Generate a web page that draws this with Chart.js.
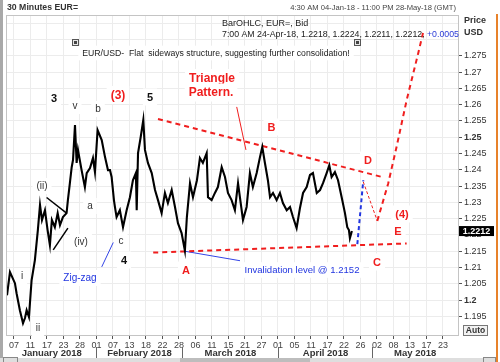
<!DOCTYPE html>
<html><head><meta charset="utf-8">
<script src="https://cdn.jsdelivr.net/npm/chart.js@4.4.1/dist/chart.umd.min.js"></script>
<style>html,body{margin:0;padding:0;background:#fff;}canvas{display:block;}</style>
</head><body>
<canvas id="c" width="500" height="362"></canvas>
<script>
// ---------- data ----------
const dayTickLabels = ['07','11','17','23','28','01','07','13','18','22','28','06','11','15','21','27','01','05','11','17','22','26','02','08','13','17','23'];
const monthLabels = ['January 2018','February 2018','March 2018','April 2018','May 2018'];
const monthStarts = [4.95, 10.2, 16.0, 21.7];
const priceTicks = [1.195,1.2,1.205,1.21,1.215,1.22,1.225,1.23,1.235,1.24,1.245,1.25,1.255,1.26,1.265,1.27,1.275];
const gridOnlyTicks = [1.28,1.285];
const boldTicks = [1.2,1.25];
const lastPrice = 1.2212;

const priceTimes = [-0.42,-0.24,0.06,0.16,0.36,0.55,0.67,0.77,0.91,1.07,1.27,1.45,1.58,1.70,1.88,2.04,2.18,2.30,2.48,2.65,2.79,2.97,3.19,3.27,3.39,3.50,3.58,3.70,3.80,3.88,4.10,4.30,4.41,4.61,4.79,4.91,5.07,5.32,5.52,5.70,5.82,5.92,6.06,6.12,6.22,6.42,6.61,6.83,7.03,7.21,7.39,7.44,7.52,7.68,7.84,7.94,8.12,8.35,8.55,8.73,8.95,9.15,9.33,9.56,9.76,9.94,10.16,10.36,10.48,10.67,10.85,11.09,11.27,11.45,11.68,11.76,11.98,12.18,12.36,12.59,12.79,12.97,13.19,13.39,13.58,13.88,14.10,14.30,14.48,14.71,14.91,15.05,15.21,15.39,15.52,15.70,15.92,16.12,16.30,16.53,16.73,16.91,17.13,17.33,17.52,17.74,17.94,18.12,18.35,18.55,18.73,18.95,19.11,19.25,19.45,19.64,19.86,20.06,20.20,20.30,20.36,20.48];
const priceValues = [1.2015,1.2086,1.2052,1.2021,1.1969,1.1929,1.1945,1.1969,1.1948,1.2061,1.2123,1.2215,1.2292,1.2246,1.2276,1.2215,1.2169,1.2246,1.2224,1.2267,1.2230,1.2255,1.2267,1.2307,1.2359,1.2408,1.2430,1.2537,1.2421,1.2461,1.2399,1.2347,1.2390,1.2405,1.2436,1.2393,1.2522,1.2491,1.2439,1.2399,1.2399,1.2378,1.2307,1.2286,1.2255,1.2276,1.2224,1.2276,1.2316,1.2368,1.2390,1.2276,1.2451,1.2500,1.2553,1.2461,1.2421,1.2390,1.2338,1.2307,1.2267,1.2329,1.2298,1.2338,1.2286,1.2236,1.2206,1.2152,1.2255,1.2359,1.2316,1.2368,1.2436,1.2421,1.2451,1.2316,1.2307,1.2329,1.2347,1.2408,1.2378,1.2329,1.2307,1.2276,1.2359,1.2246,1.2286,1.2390,1.2347,1.2390,1.2439,1.2470,1.2421,1.2368,1.2316,1.2329,1.2307,1.2329,1.2298,1.2276,1.2286,1.2255,1.2221,1.2282,1.2329,1.2347,1.2384,1.2390,1.2329,1.2338,1.2359,1.2390,1.2414,1.2378,1.2393,1.2368,1.2316,1.2267,1.2224,1.2215,1.2190,1.2212];

const upperTriangle = [[8.73,1.2556],[22.30,1.2378]];
const lowerTriangle = [[8.44,1.2146],[23.80,1.2174]];
const legD = [[20.81,1.2172],[21.17,1.2368]];
const legE = [[21.17,1.2363],[22.02,1.2243]];
const breakout = [[22.02,1.2243],[22.68,1.2358],[23.19,1.2471],[23.80,1.2614],[24.50,1.2758],[24.79,1.2820]];
const invalidation = [[10.36,1.2150],[13.70,1.2121]];
const trianglePointer = [[13.50,1.2593],[14.06,1.2461]];
const wedgeUpper = [[1.98,1.2315],[3.19,1.2267]];
const wedgeLower = [[2.38,1.2154],[3.27,1.2221]];
const zigzagPointer = [[5.32,1.2102],[6.02,1.2177]];

// ---------- styles ----------
const FONT = '"Liberation Sans", Arial, sans-serif';
const RED = '#f01e1e';
const BLUE = '#2236e0';
const pts = a => a.map(p => ({x:p[0], y:p[1]}));
function seg(data, color, width, dash) {
  return {data: pts(data), borderColor: color, borderWidth: width, borderDash: dash || [], pointRadius: 0, tension: 0, fill: false};
}

const notes = [
  {t:'3', x:54, y:98, f:'bold 11px', c:'#111'},
  {t:'v', x:75, y:106, f:'10px', c:'#333'},
  {t:'b', x:98, y:109, f:'10px', c:'#333'},
  {t:'(3)', x:118, y:95, f:'bold 12px', c:RED},
  {t:'5', x:150, y:97, f:'bold 11px', c:'#111'},
  {t:'(ii)', x:42, y:186, f:'10px', c:'#333'},
  {t:'a', x:90, y:206, f:'10px', c:'#333'},
  {t:'(iv)', x:81, y:242, f:'10px', c:'#333'},
  {t:'c', x:121, y:241, f:'10px', c:'#333'},
  {t:'4', x:124, y:260, f:'bold 11px', c:'#111'},
  {t:'i', x:22, y:276, f:'10px', c:'#333'},
  {t:'ii', x:38, y:328, f:'10px', c:'#333'},
  {t:'Zig-zag', x:80, y:278, f:'10px', c:BLUE},
  {t:'Triangle', x:212, y:78, f:'bold 12px', c:RED},
  {t:'Pattern.', x:211, y:92.5, f:'bold 12px', c:RED},
  {t:'B', x:271.5, y:127, f:'bold 11px', c:RED},
  {t:'D', x:368, y:160, f:'bold 11px', c:RED},
  {t:'(4)', x:402, y:214, f:'bold 11px', c:RED},
  {t:'E', x:398, y:231, f:'bold 11px', c:RED},
  {t:'C', x:377, y:262, f:'bold 11px', c:RED},
  {t:'A', x:186, y:270, f:'bold 11px', c:RED},
  {t:'Invalidation level @ 1.2152', x:302, y:270, f:'10px', c:BLUE, fitW:115},
  {t:'EUR/USD-  Flat  sideways structure, suggesting further consolidation!', x:216, y:53, f:'9px', c:'#222', fitW:268}
];

function setFont(ctx, f, fitW, text) {
  ctx.font = f + ' ' + FONT;
  if (fitW) {
    const w = ctx.measureText(text).width;
    const m = f.match(/([\d.]+)px/);
    const size = parseFloat(m[1]) * fitW / w;
    ctx.font = f.replace(m[0], size.toFixed(2) + 'px') + ' ' + FONT;
  }
}

function icon(ctx, x, y) {
  ctx.fillStyle = '#555'; ctx.fillRect(x - 3, y - 3, 7, 7);
  ctx.fillStyle = '#e6e6e6'; ctx.fillRect(x - 2, y - 2, 5, 5);
  ctx.fillStyle = '#444'; ctx.fillRect(x - 1, y - 1, 3, 3);
}

const annotate = {
  id: 'annotate',
  beforeDatasetsDraw(chart) {
    const ctx = chart.ctx, a = chart.chartArea;
    ctx.save();
    ctx.strokeStyle = '#c4c4c4'; ctx.lineWidth = 1;
    ctx.strokeRect(a.left - 0.5, a.top - 0.5, a.right - a.left + 1, a.bottom - a.top + 1);
    ctx.textBaseline = 'middle';
    notes.forEach(n => {
      setFont(ctx, n.f, n.fitW, n.t);
      const w = ctx.measureText(n.t).width;
      const h = parseFloat(ctx.font.match(/([\d.]+)px/)[1]);
      ctx.fillStyle = '#fff';
      ctx.fillRect(n.x - w / 2 - 4, n.y - h / 2 - 3, w + 8, h + 6);
      ctx.fillStyle = n.c; ctx.textAlign = 'center';
      ctx.fillText(n.t, n.x, n.y + 0.5);
    });
    icon(ctx, 75, 42);
    icon(ctx, 357, 42);
    ctx.restore();
  },
  afterDraw(chart) {
    const ctx = chart.ctx, a = chart.chartArea;
    const xs = chart.scales.x, ys = chart.scales.y;
    ctx.save();
    ctx.textBaseline = 'middle'; ctx.textAlign = 'left';
    // header
    setFont(ctx, 'bold 9px', 71, '30 Minutes EUR=');
    ctx.fillStyle = '#333'; ctx.fillText('30 Minutes EUR=', 7, 8);
    const range = '4:30 AM 04-Jan-18 - 11:00 PM 28-May-18 (GMT)';
    ctx.font = '7.6px ' + FONT;
    ctx.fillStyle = '#444'; ctx.textAlign = 'right'; ctx.fillText(range, 456, 8);
    ctx.textAlign = 'left';
    ctx.font = '9px ' + FONT; ctx.fillStyle = '#222';
    ctx.fillText('BarOHLC, EUR=, Bid', 222, 24);
    const info = '7:00 AM 24-Apr-18, 1.2218, 1.2224, 1.2211, 1.2212, ';
    const chg = '+0.0005';
    setFont(ctx, '9px', 237, info + chg);
    ctx.fillText(info, 222, 34.5);
    const iw = ctx.measureText(info).width;
    ctx.fillStyle = '#2b3bd6'; ctx.fillText(chg, 222 + iw, 34.5);
    // price header
    ctx.font = 'bold 9px ' + FONT; ctx.fillStyle = '#333';
    ctx.fillText('Price', 464, 21);
    ctx.fillText('USD', 464, 33);
    // last price box
    const py = ys.getPixelForValue(lastPrice);
    ctx.fillStyle = '#000'; ctx.fillRect(459, py - 5, 35, 10);
    ctx.fillStyle = '#fff'; ctx.font = 'bold 9px ' + FONT; ctx.textAlign = 'center';
    ctx.fillText(String(lastPrice), 476.5, py + 0.5);
    // Auto box
    ctx.fillStyle = '#f2f2f2'; ctx.fillRect(463.5, 325.5, 24, 10);
    ctx.strokeStyle = '#777'; ctx.lineWidth = 1; ctx.strokeRect(463.5, 325.5, 24, 10);
    ctx.fillStyle = '#333'; ctx.font = 'bold 8.5px ' + FONT;
    ctx.fillText('Auto', 475.5, 331);
    // months
    const sepPx = monthStarts.map(v => Math.round(xs.getPixelForValue(v)) + 0.5);
    const bounds = [a.left].concat(sepPx, [a.right]);
    ctx.strokeStyle = '#666';
    sepPx.forEach(x => { ctx.beginPath(); ctx.moveTo(x, 347); ctx.lineTo(x, 358); ctx.stroke(); });
    ctx.font = 'bold 9.5px ' + FONT; ctx.fillStyle = '#333';
    monthLabels.forEach((m, i) => ctx.fillText(m, (bounds[i] + bounds[i + 1]) / 2, 353.5));
    // chrome
    ctx.fillStyle = '#a9a9a9'; ctx.fillRect(0, 0, 3, 362);
    ctx.fillStyle = '#dedede'; ctx.fillRect(0, 358, 497, 4);
    ctx.fillStyle = '#bdbdbd'; ctx.fillRect(180, 358, 130, 4);
    ctx.strokeStyle = '#888'; ctx.strokeRect(3.5, 357.5, 14, 5);
    ctx.strokeRect(483.5, 357.5, 12, 5);
    ctx.fillStyle = '#e8822a'; ctx.fillRect(496, 14, 2, 348);
    ctx.restore();
  }
};

new Chart(document.getElementById('c'), {
  type: 'line',
  data: {
    datasets: [
      {data: priceTimes.map((t, i) => ({x: t, y: priceValues[i]})), borderColor: '#000', borderWidth: 2.1, pointRadius: 0, tension: 0, fill: false, borderJoinStyle: 'miter'},
      seg(upperTriangle, RED, 2, [5, 4]),
      seg(lowerTriangle, RED, 2, [5, 4]),
      seg(legD, BLUE, 2, [4, 3]),
      seg(legE, RED, 1, [3, 2]),
      seg(breakout, RED, 2, [5, 4]),
      seg(invalidation, '#3344e6', 1),
      seg(trianglePointer, RED, 1),
      seg(wedgeUpper, '#000', 1.5),
      seg(wedgeLower, '#000', 1.5),
      seg(zigzagPointer, '#3344e6', 1)
    ]
  },
  options: {
    responsive: false,
    devicePixelRatio: 1,
    animation: false,
    events: [],
    layout: {padding: {left: 7, top: 16, right: 0, bottom: 0}},
    plugins: {legend: {display: false}, tooltip: {enabled: false}},
    scales: {
      x: {
        type: 'linear', min: -0.42, max: 26.91, bounds: 'data',
        afterBuildTicks: s => { s.ticks = dayTickLabels.map((_, i) => ({value: i})); },
        afterFit: s => { s.height = 27; },
        ticks: {autoSkip: false, maxRotation: 0, padding: 1, color: '#444', font: {family: FONT, size: 9},
          callback: v => dayTickLabels[Math.round(v)]},
        grid: {color: '#ececec', tickLength: 4, tickColor: '#555'},
        border: {color: '#c4c4c4'}
      },
      y: {
        type: 'linear', position: 'right', min: 1.1893, max: 1.2872, bounds: 'data',
        afterBuildTicks: s => { s.ticks = priceTicks.concat(gridOnlyTicks).map(v => ({value: v})); },
        afterFit: s => { s.width = 42; },
        ticks: {autoSkip: false, padding: 2, color: '#333',
          font: c => ({family: FONT, size: 9, weight: (c.tick && boldTicks.some(b => Math.abs(b - c.tick.value) < 1e-6)) ? 'bold' : 'normal'}),
          callback: v => priceTicks.some(p => Math.abs(p - v) < 1e-6) ? String(+v.toFixed(3)) : ''},
        grid: {color: '#ececec', tickLength: 4,
          tickColor: c => (c.tick && c.tick.value > 1.2755) ? 'rgba(0,0,0,0)' : '#555'},
        border: {color: '#c4c4c4'}
      }
    }
  },
  plugins: [annotate]
});
</script>
</body></html>
